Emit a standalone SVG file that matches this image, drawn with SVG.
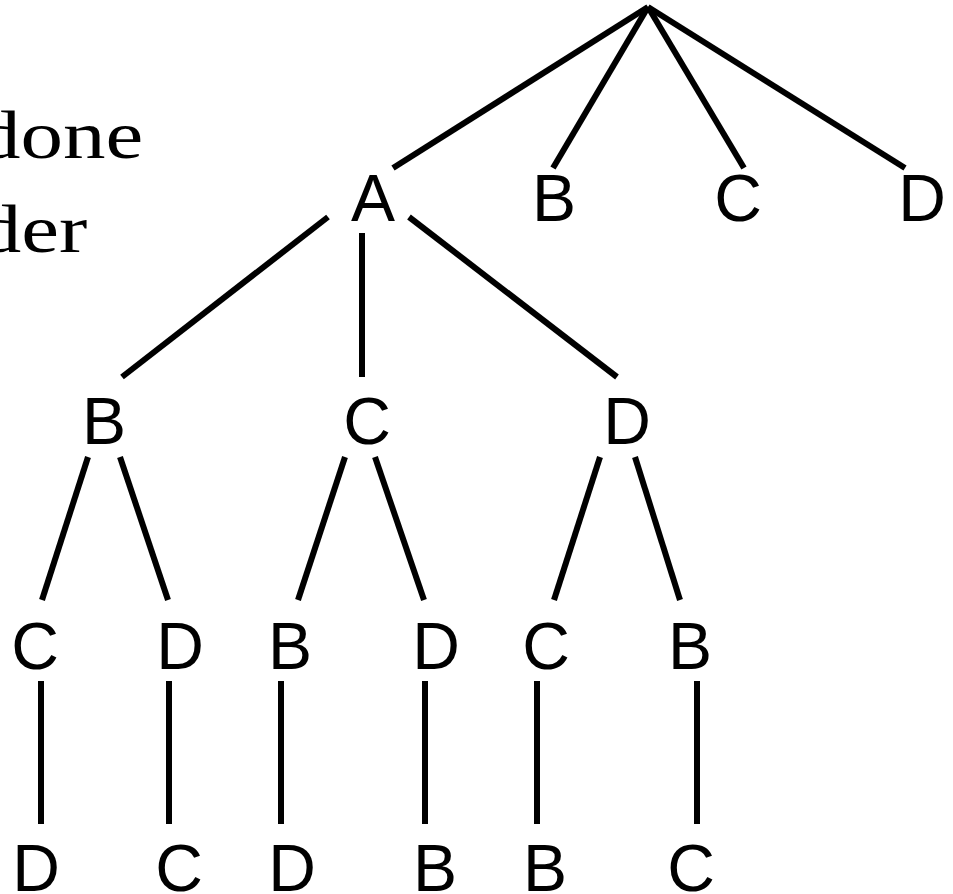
<svg xmlns="http://www.w3.org/2000/svg" width="953" height="894" viewBox="0 0 953 894">
  <style>
    .lbl { font-family: "Liberation Sans", Arial, sans-serif; font-size: 66px; text-anchor: middle; fill: #000; }
    .note { font-family: "Liberation Serif", "Times New Roman", serif; font-size: 68px; text-anchor: end; fill: #000; }
    .edge { stroke: #000; stroke-width: 6; stroke-linecap: butt; fill: none; }
  </style>
  <rect width="953" height="894" fill="#fff"/>

  <!-- caption fragments on the left (wide serif, stretched horizontally) -->
  <g id="caption" transform="scale(1.25 1)">
    <text class="note" x="114.6" y="158">done</text>
    <text class="note" x="69.8" y="252">der</text>
  </g>

  <!-- tree edges -->
  <g id="edges" class="edge">
    <line x1="648" y1="7" x2="393" y2="168"/>
    <line x1="648" y1="7" x2="553" y2="168"/>
    <line x1="648" y1="7" x2="744" y2="168"/>
    <line x1="648" y1="7" x2="905" y2="168"/>

    <line x1="328" y1="217" x2="122" y2="377"/>
    <line x1="362" y1="233" x2="362" y2="377"/>
    <line x1="409" y1="217" x2="617" y2="377"/>

    <line x1="88" y1="457" x2="42" y2="600"/>
    <line x1="120" y1="457" x2="168" y2="600"/>
    <line x1="345" y1="457" x2="298" y2="600"/>
    <line x1="375" y1="457" x2="424" y2="600"/>
    <line x1="600" y1="457" x2="554" y2="600"/>
    <line x1="635" y1="457" x2="680" y2="600"/>

    <line x1="41" y1="681" x2="41" y2="824"/>
    <line x1="169" y1="681" x2="169" y2="824"/>
    <line x1="281" y1="681" x2="281" y2="824"/>
    <line x1="425" y1="681" x2="425" y2="824"/>
    <line x1="537" y1="681" x2="537" y2="824"/>
    <line x1="697" y1="681" x2="697" y2="824"/>
  </g>

  <!-- level 1 -->
  <g id="n-A"><text class="lbl" x="373" y="221">A</text></g>
  <g id="n-B"><text class="lbl" x="554" y="221">B</text></g>
  <g id="n-C"><text class="lbl" x="738" y="221">C</text></g>
  <g id="n-D"><text class="lbl" x="922" y="221">D</text></g>

  <!-- level 2 -->
  <g id="n-AB"><text class="lbl" x="104" y="444">B</text></g>
  <g id="n-AC"><text class="lbl" x="367" y="444">C</text></g>
  <g id="n-AD"><text class="lbl" x="627" y="444">D</text></g>

  <!-- level 3 -->
  <g id="n-ABC"><text class="lbl" x="35" y="669">C</text></g>
  <g id="n-ABD"><text class="lbl" x="180" y="669">D</text></g>
  <g id="n-ACB"><text class="lbl" x="290" y="669">B</text></g>
  <g id="n-ACD"><text class="lbl" x="436" y="669">D</text></g>
  <g id="n-ADC"><text class="lbl" x="546" y="669">C</text></g>
  <g id="n-ADB"><text class="lbl" x="690" y="669">B</text></g>

  <!-- level 4 -->
  <g id="n-ABCD"><text class="lbl" x="36" y="891">D</text></g>
  <g id="n-ABDC"><text class="lbl" x="179" y="891">C</text></g>
  <g id="n-ACBD"><text class="lbl" x="292" y="891">D</text></g>
  <g id="n-ACDB"><text class="lbl" x="435" y="891">B</text></g>
  <g id="n-ADCB"><text class="lbl" x="545" y="891">B</text></g>
  <g id="n-ADBC"><text class="lbl" x="691" y="891">C</text></g>
</svg>
